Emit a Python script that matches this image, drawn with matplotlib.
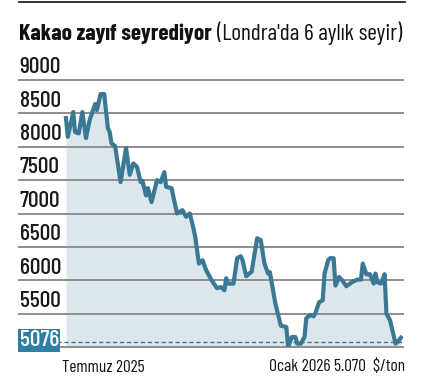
import numpy as np
import matplotlib.pyplot as plt
from matplotlib.transforms import blended_transform_factory

# gün: 14 Temmuz 2025'ten itibaren gün sayısı, fiyat: $/ton
gun = [0, 1, 4, 5, 7, 9, 11, 13, 16, 17, 19, 21, 23, 24, 25, 27, 30, 33, 35, 37,
       39, 41, 42, 44, 45, 47, 50, 52, 54, 55, 58, 59, 61, 64, 66, 68, 70, 71, 73, 75,
       77, 80, 83, 85, 87, 88, 89, 92, 94, 96, 97, 99, 102, 103, 105, 107, 109, 111, 112, 115,
       118, 121, 122, 124, 126, 127, 129, 131, 132, 134, 136, 137, 139, 141, 142, 144, 145, 147, 148, 150,
       152, 154, 157, 160, 162, 163, 165, 167, 169, 170, 171, 173, 175, 176, 177, 178, 181, 182, 184]
fiyat = [8430, 8150, 8520, 8220, 8200, 8520, 8130, 8400, 8640, 8550, 8790, 8790, 8280, 8220, 8050, 8010, 7470, 7980, 7580, 7750,
         7700, 7470, 7490, 7270, 7380, 7170, 7500, 7470, 7620, 7400, 7380, 7250, 7000, 7050, 6950, 7000, 6780, 6650, 6250, 6300,
         6150, 6000, 5880, 5900, 5850, 6030, 5950, 5950, 6330, 6360, 6300, 6060, 6130, 6300, 6630, 6600, 6250, 6100, 6120, 5650,
         5320, 5300, 5000, 5150, 5150, 5050, 5050, 5150, 5430, 5480, 5460, 5510, 5670, 5700, 6100, 6300, 6330, 6330, 5920, 6050,
         5990, 5910, 5970, 6010, 6010, 6250, 6090, 6090, 5950, 6100, 5970, 5950, 6090, 5500, 5450, 5400, 5050, 5070, 5140]
seviyeler = [5000, 5500, 6000, 6500, 7000, 7500, 8000, 8500, 9000]
son_deger = 5076

W, H = 421, 376
fig = plt.figure(figsize=(W / 100, H / 100), dpi=100)
ax = fig.add_axes([19 / W, (H - 347) / H, 384 / W, 267 / H])
ax.set_xlim(-25.8, 185.1)
ax.set_ylim(5000, 9000)
ax.axis('off')

dar = ['Barlow Condensed', 'DejaVu Sans']
cizgi = '#3a7893'

for s in seviyeler:
    ax.axhline(s, color='#8e8e8e', lw=1.4, zorder=1, clip_on=False)
tr = blended_transform_factory(ax.transAxes, ax.transData)
for s in seviyeler[1:]:
    ax.text(0.002, s + 40, str(s), transform=tr, ha='left', va='bottom',
            fontsize=17, fontweight=500, family=dar, color='#1a1a1a')

ax.fill_between(gun, fiyat, 5000, color='#dce6ed', lw=0, zorder=0)
ax.plot(gun, fiyat, color=cizgi, lw=3, solid_joinstyle='round', zorder=3)

ax.axhline(son_deger, xmin=0.099, color=cizgi, lw=1, ls=(0, (3, 2)), zorder=2)
ax.text(0.002, son_deger + 25, str(son_deger), transform=tr, ha='left', va='center',
        fontsize=17, fontweight=500, family=dar, color='white',
        bbox=dict(boxstyle='square,pad=0.06', fc='#2f7ea4', ec='none'))

# başlık
fig.add_artist(plt.Line2D([19 / W, 405 / W], [1 - 2 / H, 1 - 2 / H], color='#111111', lw=1.2))
t1 = fig.text(19 / W, 1 - 40 / H, 'Kakao zayıf seyrediyor', fontsize=16.8, fontweight='bold',
              family=dar, color='#111111', va='baseline')
fig.canvas.draw()
bb = t1.get_window_extent()
fig.text(bb.x1 / W + 5 / W, 1 - 40 / H, "(Londra'da 6 aylık seyir)", fontsize=16.8,
         family=dar, color='#111111', va='baseline')

fig.text(62 / W, 1 - 372 / H, 'Temmuz 2025', fontsize=12.5, family=dar, color='#111111', va='baseline')
fig.text(405 / W, 1 - 371 / H, 'Ocak 2026 5.070  $/ton', fontsize=12.5, family=dar,
         color='#111111', va='baseline', ha='right')

fig.savefig('out.png', dpi=100)
